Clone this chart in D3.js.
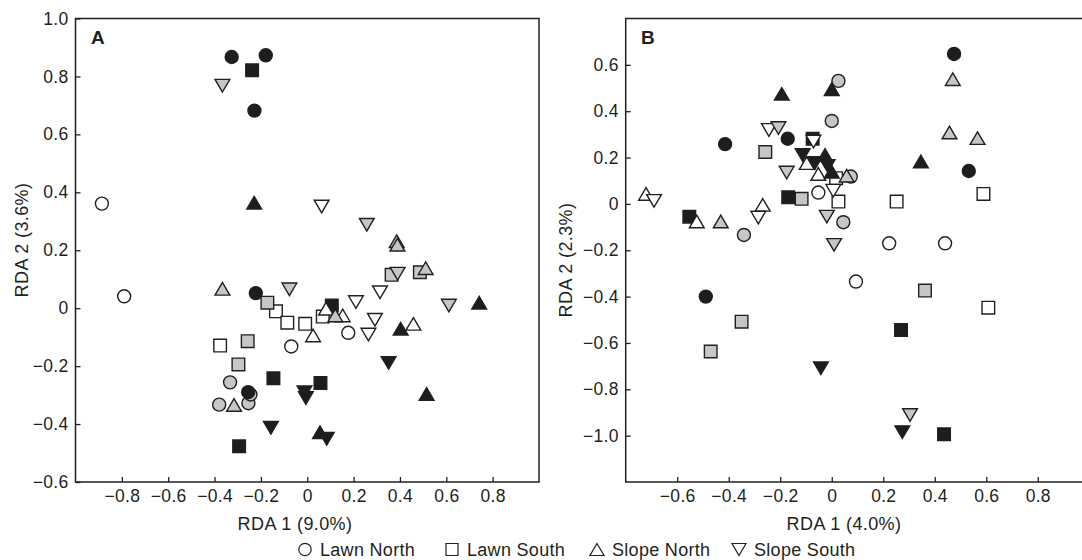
<!DOCTYPE html>
<html><head><meta charset="utf-8">
<script src="https://cdn.jsdelivr.net/npm/d3@7"></script>
<style>
html,body{margin:0;padding:0;background:#fff;}
svg text{font-family:"Liberation Sans",Arial,Helvetica,sans-serif;fill:#231f20;}
</style></head>
<body>
<svg id="chart" width="1082" height="560"></svg>
<script>
// ---------- DATA ----------
const groupNames = ["Lawn North", "Lawn South", "Slope North", "Slope South"];
const groupShapes = ["circle", "square", "up", "down"];
const fillColors = ["#ffffff", "#c6c6c6", "#1f1c1d"]; // 0 = white, 1 = gray, 2 = black

// Panel A  [RDA1, RDA2, fill]
const aLawnNorth = [[-0.886,0.361,0],[-0.790,0.041,0],[-0.069,-0.132,0],[0.177,-0.085,0],
  [-0.333,-0.256,1],[-0.380,-0.333,1],[-0.254,-0.328,1],[-0.245,-0.298,1],
  [-0.326,0.867,2],[-0.179,0.873,2],[-0.228,0.682,2],[-0.222,0.052,2],[-0.255,-0.290,2]];
const aLawnSouth = [[-0.135,-0.011,0],[-0.086,-0.050,0],[-0.009,-0.054,0],[-0.376,-0.129,0],[0.067,-0.029,0],
  [-0.172,0.019,1],[-0.257,-0.114,1],[-0.297,-0.194,1],[0.364,0.115,1],[0.486,0.124,1],
  [-0.238,0.821,2],[-0.146,-0.242,2],[0.057,-0.258,2],[-0.294,-0.477,2],[0.106,0.009,2]];
const aSlopeNorth = [[0.025,-0.094,0],[0.081,-0.002,0],[0.153,-0.025,0],[0.458,-0.054,0],
  [-0.366,0.067,1],[-0.316,-0.334,1],[0.386,0.231,1],[0.389,0.219,1],[0.121,-0.025,1],[0.511,0.138,1],
  [-0.229,0.364,2],[0.403,-0.071,2],[0.742,0.019,2],[0.515,-0.296,2],[0.055,-0.428,2]];
const aSlopeSouth = [[0.062,0.351,0],[0.210,0.021,0],[0.314,0.055,0],[0.292,-0.040,0],[0.264,-0.091,0],
  [-0.366,0.768,1],[0.257,0.288,1],[0.390,0.119,1],[-0.077,0.065,1],[0.611,0.009,1],
  [-0.012,-0.290,2],[-0.006,-0.310,2],[-0.157,-0.413,2],[0.084,-0.451,2],[0.351,-0.189,2]];

// Panel B  [RDA1, RDA2, fill]
const bLawnNorth = [[0.223,-0.170,0],[0.440,-0.170,0],[0.094,-0.335,0],[-0.052,0.049,0],
  [0.026,0.531,1],[0.000,0.358,1],[0.074,0.118,1],[0.045,-0.079,1],[-0.341,-0.134,1],
  [0.475,0.647,2],[0.532,0.142,2],[-0.171,0.281,2],[-0.414,0.258,2],[-0.489,-0.400,2]];
const bLawnSouth = [[0.589,0.043,0],[0.252,0.010,0],[0.017,0.111,0],[0.026,0.010,0],[0.608,-0.448,0],
  [-0.258,0.224,1],[-0.117,0.022,1],[0.362,-0.374,1],[-0.350,-0.508,1],[-0.470,-0.637,1],
  [-0.074,0.281,2],[-0.169,0.029,2],[-0.553,-0.055,2],[0.269,-0.544,2],[0.436,-0.994,2]];
const bSlopeNorth = [[-0.097,0.176,0],[-0.052,0.129,0],[-0.268,-0.004,0],[-0.524,-0.076,0],[-0.721,0.043,0],
  [0.470,0.538,1],[0.457,0.308,1],[0.566,0.284,1],[0.058,0.122,1],[-0.431,-0.076,1],
  [0.000,0.495,2],[-0.194,0.475,2],[0.346,0.183,2],[-0.026,0.211,2],[0.000,0.139,2]];
const bSlopeSouth = [[-0.244,0.319,0],[-0.071,0.269,0],[0.006,0.057,0],[-0.285,-0.059,0],[-0.690,0.013,0],
  [-0.207,0.327,1],[-0.175,0.135,1],[-0.019,-0.055,1],[0.009,-0.177,1],[0.304,-0.911,1],
  [-0.113,0.211,2],[-0.065,0.176,2],[-0.016,0.164,2],[-0.042,-0.709,2],[0.274,-0.985,2]];

const aXTicks = [-0.8,-0.6,-0.4,-0.2,0,0.2,0.4,0.6,0.8];
const aYTicks = [-0.6,-0.4,-0.2,0,0.2,0.4,0.6,0.8,1.0];
const bXTicks = [-0.6,-0.4,-0.2,0,0.2,0.4,0.6,0.8];
const bYTicks = [-1.0,-0.8,-0.6,-0.4,-0.2,0,0.2,0.4,0.6];

// ---------- DRAW ----------
const svg = d3.select("#chart");
const ink = "#231f20";
const fmt = v => v === 0 ? "0" : d3.format(".1f")(v).replace("-", "\u2013");

function symbolPath(shape, legend) {
  const k = legend ? 0.95 : 1;
  if (shape === "circle") { const r = 6.5*k; return `M${r},0A${r},${r} 0 1,1 ${-r},0A${r},${r} 0 1,1 ${r},0Z`; }
  if (shape === "square") { const s = 6.3*k; return `M${-s},${-s}H${s}V${s}H${-s}Z`; }
  const w = 7.4*k, h = 6.3*k;
  if (shape === "up") return `M0,${-h}L${w},${h}L${-w},${h}Z`;
  return `M0,${h}L${w},${-h}L${-w},${-h}Z`;
}

function panel(cfg) {
  const x = d3.scaleLinear().domain(cfg.xDomain).range([cfg.left, cfg.right]);
  const y = d3.scaleLinear().domain(cfg.yDomain).range([cfg.bottom, cfg.top]);
  const g = svg.append("g");

  const xa = g.append("g").attr("transform", `translate(0,${cfg.bottom})`)
    .call(d3.axisBottom(x).tickValues(cfg.xTicks).tickFormat(fmt).tickSize(-5).tickPadding(8));
  const ya = g.append("g").attr("transform", `translate(${cfg.left},0)`)
    .call(d3.axisLeft(y).tickValues(cfg.yTicks).tickFormat(fmt).tickSize(-5).tickPadding(7));
  [xa, ya].forEach(a => {
    a.select(".domain").remove();
    a.selectAll("line").attr("stroke", ink).attr("stroke-width", 1.3);
    a.selectAll("text").style("font-size", "17.5px").style("letter-spacing", "0.3px").attr("fill", ink);
  });

  g.append("rect").attr("x", cfg.left).attr("y", cfg.top)
    .attr("width", cfg.right - cfg.left).attr("height", cfg.bottom - cfg.top)
    .attr("fill", "none").attr("stroke", ink).attr("stroke-width", 1.5);

  cfg.series.forEach((pts, gi) => {
    g.append("g").selectAll("path").data(pts).join("path")
      .attr("d", symbolPath(groupShapes[gi], false))
      .attr("transform", d => `translate(${x(d[0])},${y(d[1])})`)
      .attr("fill", d => fillColors[d[2]])
      .attr("stroke", ink).attr("stroke-width", 1.4);
  });

  g.append("text").attr("x", cfg.letterX).attr("y", cfg.top + 25)
    .style("font-size", "19px").style("font-weight", "bold").text(cfg.letter);
  g.append("text").attr("x", cfg.xLabelX).attr("y", 530).attr("text-anchor", "middle")
    .style("font-size", "18px").style("letter-spacing", "0.4px").text(cfg.xLabel);
  g.append("text").attr("transform", `translate(${cfg.yLabelX},${cfg.yLabelY}) rotate(-90)`)
    .attr("text-anchor", "middle").style("font-size", "18px").style("letter-spacing", "0.4px").text(cfg.yLabel);
}

panel({ xDomain: [-1, 1], yDomain: [-0.6, 1.0], left: 75.5, right: 539, top: 18.5, bottom: 482,
  xTicks: aXTicks, yTicks: aYTicks, series: [aLawnNorth, aLawnSouth, aSlopeNorth, aSlopeSouth],
  letter: "A", letterX: 91, xLabel: "RDA 1 (9.0%)", xLabelX: 295,
  yLabel: "RDA 2 (3.6%)", yLabelX: 28, yLabelY: 240 });

panel({ xDomain: [-0.8, 1.0], yDomain: [-1.2, 0.8], left: 625.7, right: 1089.3, top: 18.5, bottom: 482,
  xTicks: bXTicks, yTicks: bYTicks, series: [bLawnNorth, bLawnSouth, bSlopeNorth, bSlopeSouth],
  letter: "B", letterX: 641, xLabel: "RDA 1 (4.0%)", xLabelX: 844,
  yLabel: "RDA 2 (2.3%)", yLabelX: 572, yLabelY: 260 });

// Legend
const legendX = [305, 452, 597, 739];
const lg = svg.append("g");
groupNames.forEach((name, i) => {
  lg.append("path").attr("d", symbolPath(groupShapes[i], true))
    .attr("transform", `translate(${legendX[i]},549.5)`)
    .attr("fill", "#fff").attr("stroke", ink).attr("stroke-width", 1.2);
  lg.append("text").attr("x", legendX[i] + 15).attr("y", 556)
    .style("font-size", "18px").style("letter-spacing", "0.3px").text(name);
});
</script>
</body></html>
